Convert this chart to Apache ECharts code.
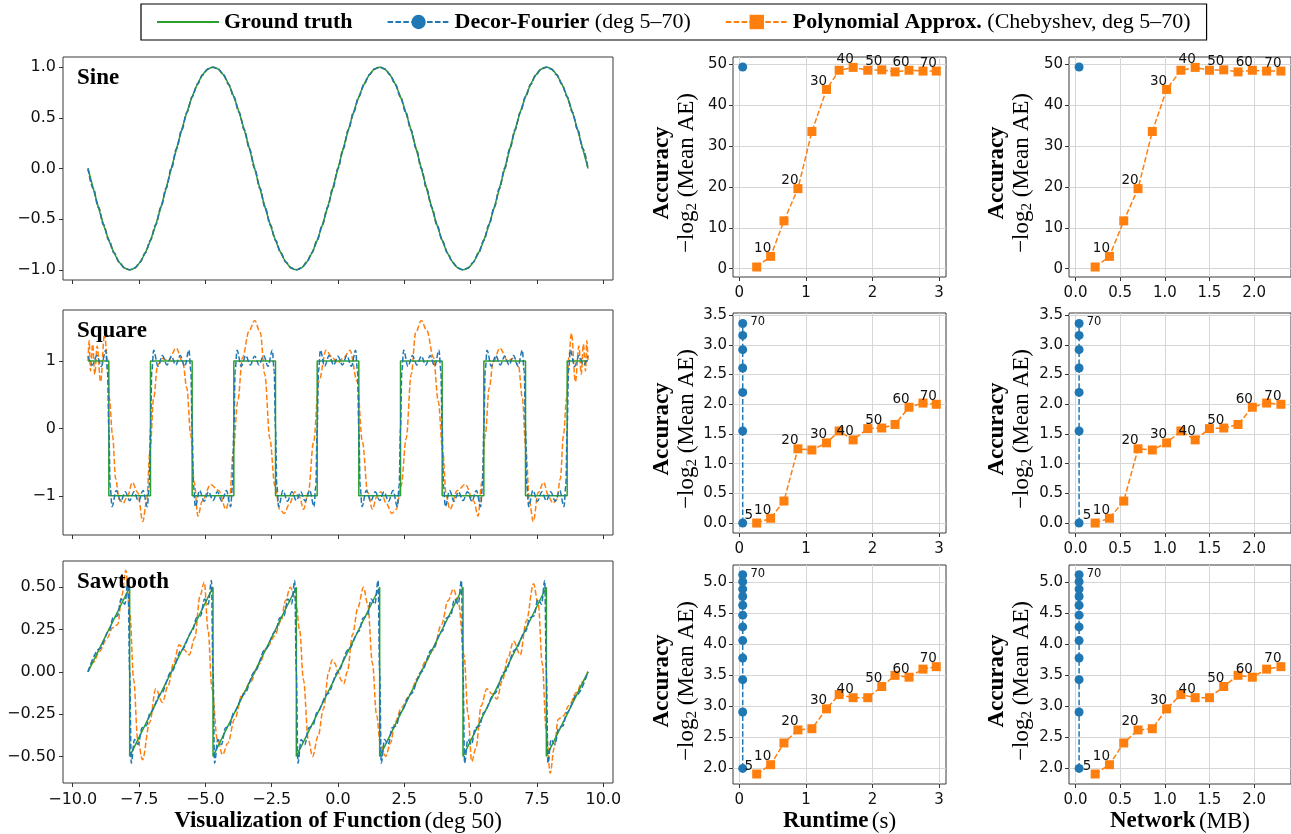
<!DOCTYPE html>
<html><head><meta charset="utf-8">
<script src="https://cdn.jsdelivr.net/npm/echarts@6/dist/echarts.min.js"></script>
<style>html,body{margin:0;padding:0;background:#fff}#c{width:1291px;height:834px}</style>
</head><body><div id="c"></div>
<script>
// ---------------- DATA ----------------
const degLabels = ['5','10','15','20','25','30','35','40','45','50','55','60','65','70'];
const runtimeX = [0.26,0.47,0.67,0.88,1.09,1.31,1.50,1.71,1.93,2.14,2.34,2.55,2.76,2.96];
const networkX = [0.22,0.38,0.54,0.70,0.86,1.02,1.18,1.34,1.50,1.66,1.82,1.98,2.14,2.30];
const fourierRuntime = 0.05;
const fourierNetwork = 0.04;
const sineAcc   = [0.4,3.0,11.7,19.6,33.6,43.9,48.6,49.3,48.6,48.7,48.2,48.6,48.4,48.4];
const sineFourierAcc = [49.4];
const squareAcc = [0,0.08,0.37,1.25,1.23,1.35,1.55,1.40,1.59,1.60,1.66,1.95,2.02,2.00];
const squareFourierAcc = [0,1.55,2.20,2.61,2.92,3.16,3.36];
const sawAcc    = [1.91,2.06,2.41,2.62,2.64,2.96,3.19,3.14,3.14,3.32,3.50,3.47,3.60,3.64];
const sawFourierAcc = [2.00,2.91,3.43,3.78,4.06,4.28,4.47,4.63,4.77,4.89,5.01,5.12];

const leftXTicks = [-10,-7.5,-5,-2.5,0,2.5,5,7.5,10];
const sineYTicks = [-1,-0.5,0,0.5,1];
const squareYTicks = [-1,0,1];
const sawYTicks = [-0.5,-0.25,0,0.25,0.5];
const runtimeTicks = [0,1,2,3];
const networkTicks = [0,0.5,1,1.5,2];
const sineAccTicks = [0,10,20,30,40,50];
const squareAccTicks = [0,0.5,1,1.5,2,2.5,3,3.5];
const sawAccTicks = [2,2.5,3,3.5,4,4.5,5];

const sineTruth = [[-9.425,0],[-9.228,-0.195],[-9.032,-0.383],[-8.836,-0.556],[-8.639,-0.707],[-8.443,-0.831],[-8.247,-0.924],[-8.050,-0.981],[-7.854,-1],[-7.658,-0.981],[-7.461,-0.924],[-7.265,-0.831],[-7.069,-0.707],[-6.872,-0.556],[-6.676,-0.383],[-6.480,-0.195],
[-6.283,0],[-6.087,0.195],[-5.890,0.383],[-5.694,0.556],[-5.498,0.707],[-5.301,0.831],[-5.105,0.924],[-4.909,0.981],[-4.712,1],[-4.516,0.981],[-4.320,0.924],[-4.123,0.831],[-3.927,0.707],[-3.731,0.556],[-3.534,0.383],[-3.338,0.195],
[-3.142,0],[-2.945,-0.195],[-2.749,-0.383],[-2.553,-0.556],[-2.356,-0.707],[-2.160,-0.831],[-1.963,-0.924],[-1.767,-0.981],[-1.571,-1],[-1.374,-0.981],[-1.178,-0.924],[-0.982,-0.831],[-0.785,-0.707],[-0.589,-0.556],[-0.393,-0.383],[-0.196,-0.195],
[0,0],[0.196,0.195],[0.393,0.383],[0.589,0.556],[0.785,0.707],[0.982,0.831],[1.178,0.924],[1.374,0.981],[1.571,1],[1.767,0.981],[1.963,0.924],[2.160,0.831],[2.356,0.707],[2.553,0.556],[2.749,0.383],[2.945,0.195],
[3.142,0],[3.338,-0.195],[3.534,-0.383],[3.731,-0.556],[3.927,-0.707],[4.123,-0.831],[4.320,-0.924],[4.516,-0.981],[4.712,-1],[4.909,-0.981],[5.105,-0.924],[5.301,-0.831],[5.498,-0.707],[5.694,-0.556],[5.890,-0.383],[6.087,-0.195],
[6.283,0],[6.480,0.195],[6.676,0.383],[6.872,0.556],[7.069,0.707],[7.265,0.831],[7.461,0.924],[7.658,0.981],[7.854,1],[8.050,0.981],[8.247,0.924],[8.443,0.831],[8.639,0.707],[8.836,0.556],[9.032,0.383],[9.228,0.195],[9.425,0]];
const sineFourier = sineTruth; // indistinguishable from ground truth at this scale
const sinePoly = sineTruth;

const squareTruth = [[-9.425,1],[-8.639,1],[-8.639,-1],[-7.069,-1],[-7.069,1],[-5.498,1],[-5.498,-1],[-3.927,-1],[-3.927,1],[-2.356,1],[-2.356,-1],[-0.785,-1],[-0.785,1],[0.785,1],[0.785,-1],[2.356,-1],[2.356,1],[3.927,1],[3.927,-1],[5.498,-1],[5.498,1],[7.069,1],[7.069,-1],[8.639,-1],[8.639,1],[9.425,1]];
const squareFourier = [[-9.425,1.07],[-9.259,0.94],[-9.089,1.08],[-8.919,0.92],[-8.759,1.16],[-8.689,0.85],[-8.639,0],
[-8.589,-0.85],[-8.519,-1.16],[-8.359,-0.92],[-8.189,-1.08],[-8.019,-0.94],[-7.854,-1.07],[-7.689,-0.94],[-7.519,-1.08],[-7.349,-0.92],[-7.189,-1.16],[-7.119,-0.85],[-7.069,0],
[-7.019,0.85],[-6.949,1.16],[-6.789,0.92],[-6.619,1.08],[-6.449,0.94],[-6.283,1.07],[-6.118,0.94],[-5.948,1.08],[-5.778,0.92],[-5.618,1.16],[-5.548,0.85],[-5.498,0],
[-5.448,-0.85],[-5.378,-1.16],[-5.218,-0.92],[-5.048,-1.08],[-4.878,-0.94],[-4.712,-1.07],[-4.547,-0.94],[-4.377,-1.08],[-4.207,-0.92],[-4.047,-1.16],[-3.977,-0.85],[-3.927,0],
[-3.877,0.85],[-3.807,1.16],[-3.647,0.92],[-3.477,1.08],[-3.307,0.94],[-3.142,1.07],[-2.976,0.94],[-2.806,1.08],[-2.636,0.92],[-2.476,1.16],[-2.406,0.85],[-2.356,0],
[-2.306,-0.85],[-2.236,-1.16],[-2.076,-0.92],[-1.906,-1.08],[-1.736,-0.94],[-1.571,-1.07],[-1.405,-0.94],[-1.235,-1.08],[-1.065,-0.92],[-0.905,-1.16],[-0.835,-0.85],[-0.785,0],
[-0.735,0.85],[-0.665,1.16],[-0.505,0.92],[-0.335,1.08],[-0.165,0.94],[0,1.07],[0.165,0.94],[0.335,1.08],[0.505,0.92],[0.665,1.16],[0.735,0.85],[0.785,0],
[0.835,-0.85],[0.905,-1.16],[1.065,-0.92],[1.235,-1.08],[1.405,-0.94],[1.571,-1.07],[1.736,-0.94],[1.906,-1.08],[2.076,-0.92],[2.236,-1.16],[2.306,-0.85],[2.356,0],
[2.406,0.85],[2.476,1.16],[2.636,0.92],[2.806,1.08],[2.976,0.94],[3.142,1.07],[3.307,0.94],[3.477,1.08],[3.647,0.92],[3.807,1.16],[3.877,0.85],[3.927,0],
[3.977,-0.85],[4.047,-1.16],[4.207,-0.92],[4.377,-1.08],[4.547,-0.94],[4.712,-1.07],[4.878,-0.94],[5.048,-1.08],[5.218,-0.92],[5.378,-1.16],[5.448,-0.85],[5.498,0],
[5.548,0.85],[5.618,1.16],[5.778,0.92],[5.948,1.08],[6.118,0.94],[6.283,1.07],[6.449,0.94],[6.619,1.08],[6.789,0.92],[6.949,1.16],[7.019,0.85],[7.069,0],
[7.119,-0.85],[7.189,-1.16],[7.349,-0.92],[7.519,-1.08],[7.689,-0.94],[7.854,-1.07],[8.019,-0.94],[8.189,-1.08],[8.359,-0.92],[8.519,-1.16],[8.589,-0.85],[8.639,0],
[8.689,0.85],[8.759,1.16],[8.919,0.92],[9.089,1.08],[9.259,0.94],[9.425,1.07]];
const squarePoly = [[-9.425,1.00],[-9.38,1.30],[-9.33,0.85],[-9.25,1.25],[-9.17,0.80],[-9.08,1.22],[-8.95,0.69],[-8.80,1.41],[-8.70,1.05],[-8.62,0.45],[-8.50,-0.10],[-8.38,-0.75],[-8.25,-1.05],[-8.10,-1.11],[-7.95,-1.02],[-7.75,-0.80],[-7.55,-0.95],[-7.36,-1.38],[-7.22,-1.10],[-7.08,-0.30],[-6.95,0.45],[-6.80,0.94],[-6.60,1.04],[-6.40,1.00],[-6.10,1.19],[-5.85,0.98],[-5.70,0.60],[-5.55,-0.10],[-5.42,-0.80],[-5.28,-1.30],[-5.12,-1.08],[-4.80,-0.83],[-4.50,-0.92],[-4.22,-1.20],[-4.08,-1.00],[-3.95,-0.35],[-3.78,0.40],[-3.60,1.05],[-3.35,1.45],[-3.14,1.60],[-2.93,1.42],[-2.76,0.80],[-2.57,-0.15],[-2.38,-0.85],[-2.20,-1.20],[-2.03,-1.26],[-1.83,-1.12],[-1.62,-0.94],[-1.45,-1.02],[-1.30,-1.20],[-1.12,-0.95],[-0.92,-0.20],[-0.72,0.70],[-0.45,1.16],[-0.22,1.05],[0,0.97],
[0.22,1.05],[0.45,1.16],[0.72,0.70],[0.92,-0.20],[1.12,-0.95],[1.30,-1.20],[1.45,-1.02],[1.62,-0.94],[1.83,-1.12],[2.03,-1.26],[2.20,-1.20],[2.38,-0.85],[2.57,-0.15],[2.76,0.80],[2.93,1.42],[3.14,1.60],[3.35,1.45],[3.60,1.05],[3.78,0.40],[3.95,-0.35],[4.08,-1.00],[4.22,-1.20],[4.50,-0.92],[4.80,-0.83],[5.12,-1.08],[5.28,-1.30],[5.42,-0.80],[5.55,-0.10],[5.70,0.60],[5.85,0.98],[6.10,1.19],[6.40,1.00],[6.60,1.04],[6.80,0.94],[6.95,0.45],[7.08,-0.30],[7.22,-1.10],[7.36,-1.38],[7.55,-0.95],[7.75,-0.80],[7.95,-1.02],[8.10,-1.11],[8.25,-1.05],[8.38,-0.75],[8.50,-0.10],[8.62,0.45],[8.70,1.05],[8.80,1.41],[8.95,0.69],[9.08,1.22],[9.17,0.80],[9.25,1.25],[9.33,0.85],[9.38,1.30],[9.425,1.00]];

const sawTruth = [[-9.425,0],[-7.854,0.5],[-7.854,-0.5],[-4.712,0.5],[-4.712,-0.5],[-1.571,0.5],[-1.571,-0.5],[1.571,0.5],[1.571,-0.5],[4.712,0.5],[4.712,-0.5],[7.854,0.5],[7.854,-0.5],[9.425,0]];
const sawFourier = [[-9.425,0],[-9.0,0.135],[-8.634,0.24],[-8.474,0.32],[-8.324,0.33],[-8.174,0.43],[-8.034,0.40],[-7.914,0.54],[-7.854,0],
[-7.794,-0.54],[-7.674,-0.40],[-7.534,-0.43],[-7.384,-0.33],[-7.234,-0.32],[-7.074,-0.24],[-6.674,-0.13],[-6.283,0],[-5.894,0.13],[-5.492,0.24],[-5.332,0.32],[-5.182,0.33],[-5.032,0.43],[-4.892,0.40],[-4.772,0.54],[-4.712,0],
[-4.652,-0.54],[-4.532,-0.40],[-4.392,-0.43],[-4.242,-0.33],[-4.092,-0.32],[-3.932,-0.24],[-3.532,-0.13],[-3.142,0],[-2.752,0.13],[-2.351,0.24],[-2.191,0.32],[-2.041,0.33],[-1.891,0.43],[-1.751,0.40],[-1.631,0.54],[-1.571,0],
[-1.511,-0.54],[-1.391,-0.40],[-1.251,-0.43],[-1.101,-0.33],[-0.951,-0.32],[-0.791,-0.24],[-0.391,-0.13],[0,0],[0.391,0.13],[0.791,0.24],[0.951,0.32],[1.101,0.33],[1.251,0.43],[1.391,0.40],[1.511,0.54],[1.571,0],
[1.631,-0.54],[1.751,-0.40],[1.891,-0.43],[2.041,-0.33],[2.191,-0.32],[2.351,-0.24],[2.752,-0.13],[3.142,0],[3.532,0.13],[3.932,0.24],[4.092,0.32],[4.242,0.33],[4.392,0.43],[4.532,0.40],[4.652,0.54],[4.712,0],
[4.772,-0.54],[4.892,-0.40],[5.032,-0.43],[5.182,-0.33],[5.332,-0.32],[5.492,-0.24],[5.894,-0.13],[6.283,0],[6.674,0.13],[7.074,0.24],[7.234,0.32],[7.384,0.33],[7.534,0.43],[7.674,0.40],[7.794,0.54],[7.854,0],
[7.914,-0.54],[8.034,-0.40],[8.174,-0.43],[8.324,-0.33],[8.474,-0.32],[8.634,-0.24],[9.0,-0.135],[9.425,0]];
const sawPoly = [[-9.425,0],[-9.20,0.06],[-9.00,0.12],[-8.70,0.20],[-8.50,0.26],[-8.30,0.28],[-8.15,0.45],[-8.00,0.60],[-7.85,0.35],[-7.70,-0.05],[-7.55,-0.40],[-7.37,-0.52],[-7.10,-0.30],[-6.87,-0.10],[-6.62,-0.18],[-6.40,-0.08],[-6.20,0.05],[-5.99,0.16],[-5.80,0.13],[-5.61,0.10],[-5.40,0.20],[-5.20,0.45],[-5.04,0.53],[-4.90,0.25],[-4.75,-0.10],[-4.55,-0.40],[-4.35,-0.49],[-4.15,-0.42],[-3.90,-0.28],[-3.60,-0.13],[-3.30,-0.06],[-3.00,0.04],[-2.65,0.15],[-2.40,0.21],[-2.15,0.30],[-1.98,0.42],[-1.80,0.50],[-1.60,0.43],[-1.45,0.25],[-1.30,-0.05],[-1.12,-0.40],[-0.96,-0.50],[-0.75,-0.38],[-0.55,-0.22],[-0.35,0.0],[-0.22,0.07],[-0.12,0.05],
[0,0],[0.12,-0.05],[0.22,-0.07],[0.35,0.0],[0.55,0.22],[0.75,0.38],[0.96,0.50],[1.12,0.40],[1.30,0.05],[1.45,-0.25],[1.60,-0.43],[1.80,-0.50],[1.98,-0.42],[2.15,-0.30],[2.40,-0.21],[2.65,-0.15],[3.00,-0.04],[3.30,0.06],[3.60,0.13],[3.90,0.28],[4.15,0.42],[4.35,0.49],[4.55,0.40],[4.75,0.10],[4.90,-0.25],[5.04,-0.53],[5.20,-0.45],[5.40,-0.20],[5.61,-0.10],[5.80,-0.13],[5.99,-0.16],[6.20,-0.05],[6.40,0.08],[6.62,0.18],[6.87,0.10],[7.10,0.30],[7.37,0.52],[7.55,0.40],[7.70,0.05],[7.85,-0.35],[8.00,-0.60],[8.15,-0.45],[8.30,-0.28],[8.50,-0.26],[8.70,-0.20],[9.00,-0.12],[9.20,-0.06],[9.425,0]];

// ---------------- STYLE / LAYOUT ----------------
const SANS = 'DejaVu Sans', SERIF = 'Liberation Serif';
const COL = {green:'#2ca02c', blue:'#1f77b4', orange:'#ff7f0e'};
const DASH = [5.5, 2.4];
const NAMES = ['Ground truth','Decor-Fourier','Polynomial Approx.'];
const titleRich = {
  b:{fontFamily:SERIF, fontWeight:'bold', fontSize:23, color:'#000'},
  n:{fontFamily:SERIF, fontSize:23, color:'#000'}
};
const fmt = (v, d) => { let s = Number(v).toFixed(d); if (Number(s) === 0) s = (0).toFixed(d); return s.replace('-', '\u2212'); };

const colL = {left:63, width:550}, colM = {left:733, width:213}, colR = {left:1069, width:226};
const rowsL = [{top:57, height:223},{top:310, height:225},{top:561, height:223}];
const rowsM = [{top:57, height:220},{top:313, height:220},{top:565, height:220}];

const grids = [];
rowsL.forEach(r => grids.push(Object.assign({}, colL, r)));
rowsM.forEach(r => grids.push(Object.assign({}, colM, r)));
rowsM.forEach(r => grids.push(Object.assign({}, colR, r)));
grids.forEach(g => { g.show = true; g.borderColor = '#3a3a3a'; g.borderWidth = 1; g.backgroundColor = 'transparent'; g.containLabel = false; });

function axis(gi, min, max, ticks, dec, showLabel, fs, split, margin, extra) {
  return Object.assign({
    type:'value', gridIndex:gi, min, max,
    axisLine:{show:false, onZero:false},
    axisTick:{show:true, inside:false, length:4, customValues:ticks, lineStyle:{color:'#333', width:1}},
    axisLabel:{show:showLabel, customValues:ticks, formatter:v => fmt(v, dec), fontFamily:SANS, fontSize:fs, color:'#111', margin:margin},
    splitLine:{show:split, lineStyle:{color:'#d6d6d6', width:1}}
  }, extra || {});
}

const xAxes = [], yAxes = [];
// left column
xAxes.push(axis(0, -10.367, 10.367, leftXTicks, 1, false, 16, false, 9));
xAxes.push(axis(1, -10.367, 10.367, leftXTicks, 1, false, 16, false, 9));
xAxes.push(axis(2, -10.367, 10.367, leftXTicks, 1, true, 16, false, 9, {
  name:'{b|Visualization of Function} {n|(deg 50)}', nameLocation:'middle', nameGap:27, nameTextStyle:{rich:titleRich}}));
yAxes.push(axis(0, -1.1, 1.1, sineYTicks, 1, true, 16, false, 7));
yAxes.push(axis(1, -1.58, 1.755, squareYTicks, 0, true, 16, false, 7));
yAxes.push(axis(2, -0.657, 0.655, sawYTicks, 2, true, 16, false, 7));
// middle + right
const accRanges = [[-2.05, 51.85, sineAccTicks, 0],[-0.168, 3.537, squareAccTicks, 1],[1.749, 5.278, sawAccTicks, 1]];
for (let c = 0; c < 2; c++) {
  for (let r = 0; r < 3; r++) {
    const gi = 3 + c*3 + r;
    const last = r === 2;
    const ext = last ? {name: c === 0 ? '{b|Runtime} {n|(s)}' : '{b|Network} {n|(MB)}', nameLocation:'middle', nameGap:26, nameTextStyle:{rich:titleRich}} : {};
    if (c === 0) xAxes.push(axis(gi, -0.096, 3.106, runtimeTicks, 0, true, 15, true, 9, ext));
    else xAxes.push(axis(gi, -0.073, 2.413, networkTicks, 1, true, 15, true, 9, ext));
    const a = accRanges[r];
    yAxes.push(axis(gi, a[0], a[1], a[2], a[3], true, 15, true, 6));
  }
}

const series = [];
// middle/right accuracy series first (so the legend takes their markers)
const accSets = [
  {poly:sineAcc, four:sineFourierAcc, showIdx:[1,3,5,7,9,11,13], four70:false},
  {poly:squareAcc, four:squareFourierAcc, showIdx:[0,1,3,5,7,9,11,13], four70:true},
  {poly:sawAcc, four:sawFourierAcc, showIdx:[0,1,3,5,7,9,11,13], four70:true}
];
for (let c = 0; c < 2; c++) {
  const xs = c === 0 ? runtimeX : networkX;
  const fx = c === 0 ? fourierRuntime : fourierNetwork;
  accSets.forEach((s, r) => {
    const gi = 3 + c*3 + r;
    series.push({
      name:NAMES[1], type:'line', xAxisIndex:gi, yAxisIndex:gi, z:3,
      data:s.four.map(v => [fx, v]), symbol:'circle', symbolSize:9, showSymbol:true,
      itemStyle:{color:COL.blue}, lineStyle:{color:COL.blue, width:1.5, type:DASH},
      label:{show:s.four70, position:'inside', offset:[15,-1], fontFamily:SANS, fontSize:11.5, color:'#111',
        formatter:p => p.dataIndex === s.four.length - 1 ? degLabels[degLabels.length - 1] : ''},
      emphasis:{disabled:true}
    });
    series.push({
      name:NAMES[2], type:'line', xAxisIndex:gi, yAxisIndex:gi, z:4,
      data:s.poly.map((v, i) => [xs[i], v]), symbol:'rect', symbolSize:9, showSymbol:true,
      itemStyle:{color:COL.orange}, lineStyle:{color:COL.orange, width:1.5, type:DASH},
      label:{show:true, position:'inside', offset:[-8,-8], fontFamily:SANS, fontSize:13.5, color:'#111',
        formatter:p => s.showIdx.indexOf(p.dataIndex) >= 0 ? degLabels[p.dataIndex] : ''},
      emphasis:{disabled:true}
    });
  });
}
// left column function curves
const funcSets = [[sineTruth, sineFourier, sinePoly],[squareTruth, squareFourier, squarePoly],[sawTruth, sawFourier, sawPoly]];
funcSets.forEach((f, gi) => {
  series.push({name:NAMES[2], type:'line', xAxisIndex:gi, yAxisIndex:gi, z:2, data:f[2], showSymbol:false, symbol:'none',
    smooth:0.35, smoothMonotone:'x', lineStyle:{color:COL.orange, width:1.5, type:DASH}, itemStyle:{color:COL.orange}, emphasis:{disabled:true}});
  series.push({name:NAMES[0], type:'line', xAxisIndex:gi, yAxisIndex:gi, z:3, data:f[0], showSymbol:false, symbol:'none',
    smooth: gi === 0 ? 0.35 : false, lineStyle:{color:COL.green, width:1.5}, itemStyle:{color:COL.green}, emphasis:{disabled:true}});
  series.push({name:NAMES[1], type:'line', xAxisIndex:gi, yAxisIndex:gi, z:4, data:f[1], showSymbol:false, symbol:'none',
    smooth:0.35, smoothMonotone:'x', lineStyle:{color:COL.blue, width:1.5, type:DASH}, itemStyle:{color:COL.blue}, emphasis:{disabled:true}});
});

// y-axis titles for middle & right columns
const yTitleText = '{b|Accuracy}\n{n|\u2212log}{s|2}{n| (Mean AE)}';
const yTitleRich = {
  b:{fontFamily:SERIF, fontWeight:'bold', fontSize:23, lineHeight:25, fill:'#000'},
  n:{fontFamily:SERIF, fontSize:23, lineHeight:25, fill:'#000'},
  s:{fontFamily:SERIF, fontSize:15, lineHeight:25, fill:'#000', padding:[10,0,0,0]}
};
const graphic = [];
[674.5, 1009.5].forEach(cx => {
  rowsM.forEach(r => {
    graphic.push({type:'text', x:cx, y:r.top + r.height/2 + 6, rotation:Math.PI/2, silent:true,
      style:{text:yTitleText, rich:yTitleRich, align:'center', verticalAlign:'middle', fill:'#000'}});
  });
});

const plotTitles = ['Sine','Square','Sawtooth'].map((t, i) => ({
  text:t, left:colL.left + 14, top:rowsL[i].top + 10, padding:0,
  textStyle:{fontFamily:SERIF, fontWeight:'bold', fontSize:23, color:'#000'}
}));

const legendRich = {
  b:{fontFamily:SERIF, fontWeight:'bold', fontSize:22, color:'#000'},
  n:{fontFamily:SERIF, fontSize:22, color:'#000'}
};
const legendText = {
  'Ground truth':'{b|Ground truth}',
  'Decor-Fourier':'{b|Decor-Fourier} {n|(deg 5\u201370)}',
  'Polynomial Approx.':'{b|Polynomial Approx.} {n|(Chebyshev, deg 5\u201370)}'
};

const chart = echarts.init(document.getElementById('c'), null, {renderer:'canvas'});
chart.setOption({
  animation:false,
  backgroundColor:'#fff',
  title:plotTitles,
  legend:{
    data:[{name:NAMES[0], icon:'path://M0,0L0,0M0,8H64V10H0ZM64,18L64,18'}, NAMES[1], NAMES[2]],
    left:141, top:4, padding:[7,16,7,16], itemGap:34, itemWidth:62, itemHeight:18,
    borderColor:'#000', borderWidth:1.2, borderRadius:0, selectedMode:false,
    formatter:n => legendText[n], textStyle:{fontFamily:SERIF, fontSize:22, color:'#000', rich:legendRich}},
  grid:grids, xAxis:xAxes, yAxis:yAxes, series, graphic
});
</script></body></html>
